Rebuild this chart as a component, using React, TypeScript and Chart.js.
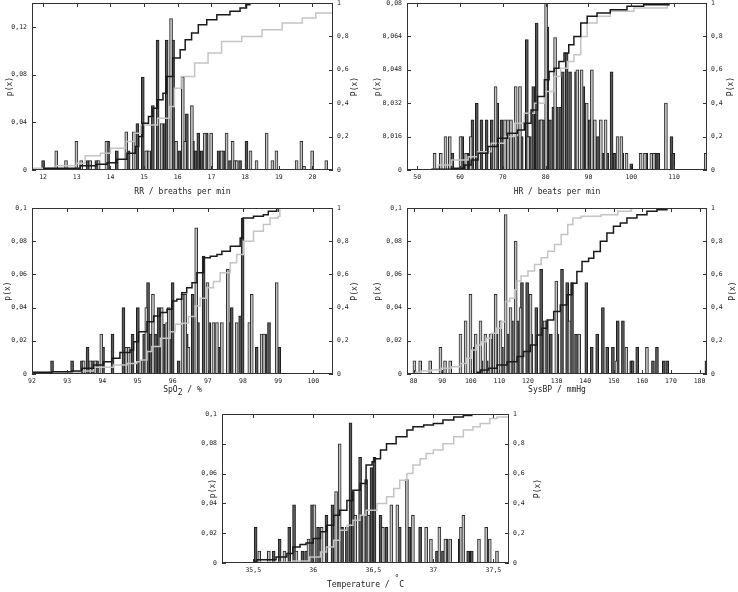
import React, { useEffect, useRef } from 'react';
import { Chart, registerables } from 'chart.js';

Chart.register(...registerables);

type Pt = [number, number];

// ---------- RR ----------
const rrTicksX = [12, 13, 14, 15, 16, 17, 18, 19, 20];
const rrTicksY = [0, 0.04, 0.08, 0.12];
const rrDark: Pt[] = [
  [12.0, 0.008], [13.32, 0.008], [13.58, 0.008], [13.93, 0.024], [14.19, 0.016], [14.54, 0.016],
  [14.8, 0.039], [14.96, 0.078], [15.1, 0.016], [15.26, 0.054], [15.4, 0.109], [15.61, 0.039],
  [15.67, 0.109], [15.86, 0.109], [16.05, 0.016], [16.27, 0.047], [16.45, 0.024], [16.53, 0.016],
  [16.61, 0.031], [16.71, 0.016], [16.86, 0.031], [17.21, 0.016], [17.36, 0.016], [17.55, 0.008],
  [17.85, 0.008], [18.04, 0.024]
];
const rrLight: Pt[] = [
  [12.39, 0.016], [12.68, 0.008], [12.99, 0.024], [13.13, 0.008], [13.4, 0.008], [13.65, 0.008],
  [13.88, 0.024], [14.47, 0.032], [14.69, 0.032], [15.06, 0.016], [15.15, 0.016], [15.52, 0.039],
  [15.8, 0.127], [15.95, 0.024], [16.15, 0.078], [16.22, 0.024], [16.42, 0.054], [16.8, 0.031],
  [16.99, 0.031], [17.3, 0.016], [17.45, 0.031], [17.63, 0.024], [17.7, 0.008], [17.75, 0.008],
  [18.16, 0.016], [18.34, 0.008], [18.64, 0.031], [18.81, 0.008], [18.93, 0.016], [19.53, 0.008],
  [19.67, 0.024], [19.75, 0.003], [19.99, 0.016], [20.41, 0.008]
];
const rrCdfDark: Pt[] = [
  [12.0, 0.01], [13.1, 0.026], [13.58, 0.034], [13.9, 0.044], [14.19, 0.064], [14.49, 0.1],
  [14.74, 0.14], [14.84, 0.2], [14.96, 0.28], [15.13, 0.32], [15.26, 0.37], [15.4, 0.42],
  [15.56, 0.46], [15.67, 0.56], [15.85, 0.67], [16.07, 0.72], [16.22, 0.78], [16.41, 0.82],
  [16.61, 0.87], [16.86, 0.9], [17.16, 0.93], [17.55, 0.95], [17.85, 0.97], [18.04, 0.99],
  [18.14, 1.0], [20.61, 1.0]
];
const rrCdfLight: Pt[] = [
  [11.67, 0.01], [12.39, 0.026], [12.99, 0.04], [13.25, 0.085], [13.7, 0.1], [14.0, 0.13],
  [14.47, 0.17], [14.7, 0.22], [14.9, 0.27], [15.4, 0.31], [15.75, 0.38], [15.9, 0.49],
  [16.1, 0.56], [16.5, 0.64], [16.9, 0.7], [17.3, 0.77], [17.9, 0.8], [18.5, 0.84],
  [19.1, 0.88], [19.7, 0.91], [20.1, 0.94], [20.61, 0.95]
];

// ---------- HR ----------
const hrTicksX = [50, 60, 70, 80, 90, 100, 110];
const hrTicksY = [0, 0.016, 0.032, 0.048, 0.064, 0.08];
const hrDark: Pt[] = [
  [58.2, 0.008], [60.5, 0.016], [61.7, 0.008], [62.9, 0.024], [63.9, 0.032], [65.0, 0.024],
  [66.2, 0.024], [67.4, 0.024], [68.7, 0.032], [69.7, 0.024], [70.9, 0.016], [72.1, 0.016],
  [73.5, 0.016], [74.4, 0.016], [75.6, 0.0625], [76.3, 0.016], [77.1, 0.04], [77.9, 0.0704],
  [78.7, 0.024], [79.4, 0.024], [80.4, 0.0685], [81.0, 0.024], [81.8, 0.03], [82.6, 0.03],
  [83.4, 0.03], [84.0, 0.047], [84.9, 0.056], [85.7, 0.047], [87.1, 0.047], [88.8, 0.04],
  [90.3, 0.024], [91.2, 0.016], [92.2, 0.016], [93.3, 0.008], [94.4, 0.008], [95.4, 0.047],
  [96.1, 0.008], [97.9, 0.008], [100.0, 0.003], [103.5, 0.008], [105.9, 0.008], [106.3, 0.008],
  [109.4, 0.016], [109.8, 0.008]
];
const hrLight: Pt[] = [
  [54.05, 0.008], [55.5, 0.008], [56.6, 0.016], [57.6, 0.016], [60.1, 0.016], [61.4, 0.008],
  [62.5, 0.016], [68.3, 0.04], [70.5, 0.024], [71.2, 0.024], [71.9, 0.024], [73.0, 0.04],
  [74.0, 0.04], [75.9, 0.016], [79.0, 0.024], [80.1, 0.08], [82.2, 0.0634], [87.4, 0.048],
  [88.4, 0.048], [89.6, 0.032], [90.8, 0.048], [91.5, 0.024], [92.9, 0.024], [94.0, 0.024],
  [96.8, 0.016], [97.7, 0.016], [98.9, 0.008], [102.2, 0.008], [103.2, 0.008], [104.7, 0.008],
  [105.3, 0.008], [108.1, 0.032], [117.4, 0.008]
];
const hrCdfDark: Pt[] = [
  [53.3, 0.004], [58.2, 0.01], [61.1, 0.03], [62.6, 0.06], [64.2, 0.1], [66.5, 0.14],
  [68.8, 0.19], [71.1, 0.22], [73.4, 0.24], [75.0, 0.28], [76.6, 0.36], [78.1, 0.44],
  [79.7, 0.54], [80.8, 0.59], [82.0, 0.61], [83.1, 0.65], [84.3, 0.7], [85.4, 0.75],
  [86.6, 0.8], [88.2, 0.88], [89.7, 0.92], [92.0, 0.94], [95.1, 0.96], [99.0, 0.98],
  [102.9, 0.99], [108.8, 1.0], [117.7, 1.0]
];
const hrCdfLight: Pt[] = [
  [53.3, 0.004], [54.9, 0.03], [58.0, 0.06], [61.9, 0.08], [64.2, 0.11], [67.3, 0.16],
  [70.4, 0.2], [72.7, 0.28], [75.0, 0.34], [77.4, 0.4], [79.7, 0.47], [82.0, 0.56],
  [83.5, 0.61], [85.1, 0.65], [86.6, 0.69], [88.2, 0.8], [89.7, 0.88], [92.0, 0.92],
  [95.1, 0.95], [100.6, 0.97], [106.8, 0.97], [108.4, 0.99], [108.8, 1.0]
];

// ---------- SpO2 ----------
const spTicksX = [92, 93, 94, 95, 96, 97, 98, 99, 100];
const tenthTicksY = [0, 0.02, 0.04, 0.06, 0.08, 0.1];
const spDark: Pt[] = [
  [92.57, 0.008], [93.14, 0.008], [93.42, 0.008], [93.58, 0.016], [93.73, 0.008], [93.85, 0.008],
  [94.02, 0.016], [94.29, 0.024], [94.6, 0.04], [94.86, 0.024], [95.01, 0.04], [95.19, 0.024],
  [95.3, 0.055], [95.38, 0.024], [95.5, 0.024], [95.6, 0.04], [95.74, 0.03], [95.95, 0.024],
  [96.0, 0.055], [96.17, 0.008], [96.31, 0.04], [96.4, 0.024], [96.57, 0.048], [96.72, 0.031],
  [96.88, 0.071], [97.04, 0.031], [97.31, 0.016], [97.63, 0.031], [97.68, 0.04], [97.92, 0.035],
  [97.99, 0.094], [98.22, 0.016], [98.39, 0.016], [98.63, 0.024], [98.74, 0.031], [99.03, 0.016]
];
const spLight: Pt[] = [
  [93.47, 0.008], [93.66, 0.008], [93.8, 0.008], [93.97, 0.024], [94.68, 0.016], [94.75, 0.016],
  [95.08, 0.008], [95.25, 0.04], [95.44, 0.048], [95.69, 0.04], [95.84, 0.031], [95.89, 0.04],
  [96.28, 0.048], [96.36, 0.048], [96.45, 0.016], [96.67, 0.088], [96.99, 0.055], [97.16, 0.031],
  [97.26, 0.031], [97.4, 0.031], [97.57, 0.063], [97.82, 0.031], [98.18, 0.031], [98.25, 0.048],
  [98.53, 0.024], [98.6, 0.024], [98.96, 0.055]
];
const spCdfDark: Pt[] = [
  [92.0, 0.01], [92.57, 0.014], [93.14, 0.018], [93.42, 0.034], [93.75, 0.054], [94.03, 0.074],
  [94.27, 0.095], [94.5, 0.13], [94.79, 0.145], [94.89, 0.195], [95.03, 0.255], [95.27, 0.315],
  [95.46, 0.35], [95.65, 0.37], [95.84, 0.39], [95.98, 0.44], [96.12, 0.45], [96.26, 0.49],
  [96.4, 0.52], [96.55, 0.55], [96.69, 0.61], [96.88, 0.7], [97.07, 0.71], [97.26, 0.72],
  [97.4, 0.74], [97.64, 0.77], [97.92, 0.82], [98.0, 0.94], [98.3, 0.95], [98.58, 0.96],
  [98.72, 0.98], [98.96, 1.0], [99.05, 1.0]
];
const spCdfLight: Pt[] = [
  [92.0, 0.01], [93.37, 0.018], [93.75, 0.04], [94.32, 0.054], [94.7, 0.064], [94.98, 0.074],
  [95.08, 0.085], [95.27, 0.135], [95.41, 0.165], [95.65, 0.215], [95.93, 0.255], [96.07, 0.3],
  [96.26, 0.306], [96.45, 0.346], [96.64, 0.41], [96.78, 0.457], [96.97, 0.52], [97.16, 0.557],
  [97.35, 0.61], [97.64, 0.67], [97.82, 0.72], [98.01, 0.8], [98.3, 0.86], [98.58, 0.9],
  [98.77, 0.94], [99.0, 0.95], [99.05, 1.0]
];

// ---------- SysBP ----------
const bpTicksX = [80, 90, 100, 110, 120, 130, 140, 150, 160, 170, 180];
const bpDark: Pt[] = [
  [101.4, 0.016], [103.8, 0.008], [105.6, 0.008], [107.3, 0.024], [109.0, 0.024], [110.9, 0.016],
  [112.7, 0.024], [114.4, 0.032], [116.2, 0.032], [117.9, 0.055], [119.7, 0.055], [121.1, 0.024],
  [122.9, 0.04], [124.6, 0.063], [126.6, 0.032], [128.0, 0.024], [130.3, 0.024], [131.9, 0.063],
  [133.7, 0.055], [135.4, 0.055], [136.8, 0.024], [140.4, 0.055], [142.3, 0.016], [144.2, 0.024],
  [146.2, 0.04], [147.7, 0.016], [149.7, 0.016], [151.4, 0.032], [153.2, 0.032], [156.1, 0.008],
  [156.6, 0.008], [158.2, 0.016], [163.7, 0.008], [165.1, 0.016], [167.5, 0.008], [168.7, 0.008],
  [182.4, 0.008]
];
const bpLight: Pt[] = [
  [80.3, 0.008], [82.3, 0.008], [85.8, 0.008], [89.4, 0.016], [91.0, 0.008], [92.8, 0.008],
  [96.4, 0.024], [98.2, 0.032], [99.9, 0.048], [101.7, 0.024], [103.4, 0.032], [105.1, 0.024],
  [106.9, 0.024], [108.7, 0.048], [110.4, 0.032], [112.2, 0.096], [113.9, 0.04], [115.7, 0.08],
  [117.4, 0.04], [120.9, 0.048], [125.8, 0.032], [129.9, 0.056], [134.5, 0.032], [137.9, 0.024],
  [150.9, 0.008], [154.4, 0.016], [161.6, 0.016]
];
const bpCdfLight: Pt[] = [
  [80.3, 0.01], [82.7, 0.018], [86.2, 0.024], [89.6, 0.034], [93.1, 0.044], [96.4, 0.064],
  [98.4, 0.095], [100.2, 0.145], [101.9, 0.175], [103.7, 0.195], [105.4, 0.215], [107.2, 0.245],
  [108.9, 0.275], [110.7, 0.315], [112.1, 0.437], [113.6, 0.457], [115.3, 0.507], [116.2, 0.56],
  [117.6, 0.59], [120.0, 0.62], [122.3, 0.66], [124.6, 0.7], [126.9, 0.74], [129.3, 0.78],
  [131.6, 0.84], [133.9, 0.9], [135.7, 0.94], [138.6, 0.95], [145.6, 0.96], [151.4, 0.98],
  [156.1, 1.0], [161.9, 1.0]
];
const bpCdfDark: Pt[] = [
  [102.0, 0.01], [103.4, 0.024], [106.3, 0.034], [109.2, 0.054], [112.7, 0.074], [116.2, 0.105],
  [118.5, 0.135], [120.8, 0.175], [123.2, 0.235], [124.9, 0.275], [126.7, 0.326], [129.0, 0.376],
  [131.3, 0.416], [133.6, 0.477], [135.4, 0.547], [137.1, 0.618], [138.9, 0.678], [141.2, 0.698],
  [143.0, 0.738], [145.3, 0.8], [147.6, 0.85], [149.9, 0.89], [152.3, 0.91], [154.6, 0.94],
  [158.1, 0.96], [161.6, 0.98], [165.1, 0.99], [168.6, 1.0], [182.6, 1.0]
];

// ---------- Temperature ----------
const tTicksX = [35.5, 36, 36.5, 37, 37.5];
const tDark: Pt[] = [
  [35.52, 0.024], [35.67, 0.008], [35.72, 0.016], [35.8, 0.024], [35.84, 0.039], [35.91, 0.008],
  [35.94, 0.008], [35.99, 0.039], [36.04, 0.024], [36.11, 0.032], [36.16, 0.039], [36.24, 0.024],
  [36.28, 0.024], [36.31, 0.094], [36.33, 0.048], [36.39, 0.071], [36.44, 0.056], [36.485, 0.064],
  [36.51, 0.071], [36.56, 0.032], [36.61, 0.024], [36.72, 0.024], [36.8, 0.024], [36.89, 0.024],
  [37.03, 0.008], [37.08, 0.008], [37.11, 0.016], [37.22, 0.016], [37.29, 0.008], [37.32, 0.008]
];
const tLight: Pt[] = [
  [35.55, 0.008], [35.63, 0.008], [35.76, 0.008], [35.86, 0.008], [35.96, 0.016], [36.01, 0.039],
  [36.07, 0.024], [36.19, 0.048], [36.22, 0.08], [36.35, 0.032], [36.42, 0.032], [36.46, 0.032],
  [36.58, 0.024], [36.65, 0.039], [36.7, 0.039], [36.78, 0.056], [36.83, 0.032], [36.94, 0.024],
  [36.98, 0.016], [37.05, 0.024], [37.1, 0.016], [37.14, 0.016], [37.23, 0.024], [37.25, 0.032],
  [37.38, 0.016], [37.44, 0.024], [37.47, 0.016], [37.53, 0.008]
];
const tCdfDark: Pt[] = [
  [35.5, 0.01], [35.53, 0.022], [35.69, 0.04], [35.78, 0.063], [35.83, 0.108], [35.89, 0.125],
  [35.94, 0.135], [36.0, 0.164], [36.06, 0.209], [36.11, 0.253], [36.17, 0.32], [36.22, 0.354],
  [36.28, 0.42], [36.33, 0.489], [36.39, 0.534], [36.44, 0.657], [36.49, 0.68], [36.51, 0.7],
  [36.56, 0.758], [36.61, 0.8], [36.69, 0.848], [36.78, 0.892], [36.83, 0.915], [36.92, 0.926],
  [37.0, 0.937], [37.08, 0.96], [37.17, 0.98], [37.25, 0.99], [37.32, 1.0]
];
const tCdfLight: Pt[] = [
  [35.5, 0.005], [35.83, 0.013], [35.97, 0.04], [36.06, 0.074], [36.11, 0.108], [36.17, 0.152],
  [36.22, 0.22], [36.28, 0.253], [36.33, 0.287], [36.39, 0.32], [36.44, 0.354], [36.53, 0.4],
  [36.61, 0.444], [36.67, 0.5], [36.72, 0.556], [36.78, 0.6], [36.83, 0.657], [36.89, 0.7],
  [36.94, 0.735], [37.0, 0.758], [37.08, 0.8], [37.17, 0.848], [37.25, 0.892], [37.33, 0.915],
  [37.39, 0.937], [37.47, 0.97], [37.53, 0.98], [37.63, 0.99]
];

const cumTicksY = [0, 0.2, 0.4, 0.6, 0.8, 1];

// ---------- layout / style ----------
const FONT = '"DejaVu Sans Mono", monospace';
const TEXT = '#222';

type TitlePart = { t: string; dy?: number };

interface PanelSpec {
  key: string;
  left: number; top: number; w: number; h: number;
  area: { l: number; r: number; t: number; b: number };
  xMin: number; xMax: number; yMax: number;
  xTicks: number[]; yTicks: number[];
  dark: Pt[]; light: Pt[]; cdfDark: Pt[]; cdfLight: Pt[];
  title: TitlePart[];
  titleDy: number;
  leftTitleX: number; rightTitleX: number;
}

const panels: PanelSpec[] = [
  {
    key: 'rr', left: 0, top: 0, w: 369, h: 200, area: { l: 32, r: 333, t: 3, b: 170 },
    xMin: 11.67, xMax: 20.61, yMax: 0.14, xTicks: rrTicksX, yTicks: rrTicksY,
    dark: rrDark, light: rrLight, cdfDark: rrCdfDark, cdfLight: rrCdfLight,
    title: [{ t: 'RR / breaths per min' }], titleDy: 22, leftTitleX: 10, rightTitleX: 355,
  },
  {
    key: 'hr', left: 369, top: 0, w: 369, h: 200, area: { l: 38, r: 338, t: 3, b: 170 },
    xMin: 47.6, xMax: 117.7, yMax: 0.08, xTicks: hrTicksX, yTicks: hrTicksY,
    dark: hrDark, light: hrLight, cdfDark: hrCdfDark, cdfLight: hrCdfLight,
    title: [{ t: 'HR / beats per min' }], titleDy: 22, leftTitleX: 9, rightTitleX: 362,
  },
  {
    key: 'sp', left: 0, top: 200, w: 369, h: 200, area: { l: 32, r: 333, t: 8, b: 174 },
    xMin: 92.0, xMax: 100.56, yMax: 0.1, xTicks: spTicksX, yTicks: tenthTicksY,
    dark: spDark, light: spLight, cdfDark: spCdfDark, cdfLight: spCdfLight,
    title: [{ t: 'SpO' }, { t: '2', dy: 3 }, { t: ' / %' }], titleDy: 16, leftTitleX: 8, rightTitleX: 355,
  },
  {
    key: 'bp', left: 369, top: 200, w: 369, h: 200, area: { l: 38, r: 338, t: 8, b: 174 },
    xMin: 77.7, xMax: 182.6, yMax: 0.1, xTicks: bpTicksX, yTicks: tenthTicksY,
    dark: bpDark, light: bpLight, cdfDark: bpCdfDark, cdfLight: bpCdfLight,
    title: [{ t: 'SysBP / mmHg' }], titleDy: 16, leftTitleX: 9, rightTitleX: 364,
  },
  {
    key: 't', left: 180, top: 400, w: 380, h: 192, area: { l: 42, r: 329, t: 14, b: 163 },
    xMin: 35.24, xMax: 37.63, yMax: 0.1, xTicks: tTicksX, yTicks: tenthTicksY,
    dark: tDark, light: tLight, cdfDark: tCdfDark, cdfLight: tCdfLight,
    title: [{ t: 'Temperature / ' }, { t: '°', dy: -6 }, { t: 'C' }], titleDy: 22, leftTitleX: 33, rightTitleX: 358,
  },
];

function fmt(v: number): string {
  return String(Number(v.toFixed(4))).replace('.', ',');
}

const framePlugin = {
  id: 'gnuframe',
  afterDraw(chart: any) {
    const { ctx, chartArea: a, scales } = chart;
    const spec: PanelSpec = chart.options.plugins.gnuframe.spec;
    ctx.save();
    ctx.strokeStyle = '#333';
    ctx.lineWidth = 1;
    const L = Math.round(a.left), R = Math.round(a.right), T = Math.round(a.top), B = Math.round(a.bottom);
    ctx.strokeRect(L + 0.5, T + 0.5, R - L - 1, B - T - 1);
    const tl = 4;
    ctx.beginPath();
    for (const t of scales.x.ticks) {
      const px = Math.round(scales.x.getPixelForValue(t.value)) + 0.5;
      ctx.moveTo(px, B); ctx.lineTo(px, B - tl);
      ctx.moveTo(px, T); ctx.lineTo(px, T + tl);
    }
    for (const t of scales.y.ticks) {
      const py = Math.round(scales.y.getPixelForValue(t.value)) + 0.5;
      ctx.moveTo(L, py); ctx.lineTo(L + tl, py);
    }
    for (const t of scales.y1.ticks) {
      const py = Math.round(scales.y1.getPixelForValue(t.value)) + 0.5;
      ctx.moveTo(R, py); ctx.lineTo(R - tl, py);
    }
    ctx.stroke();

    ctx.fillStyle = TEXT;
    ctx.textBaseline = 'middle';
    ctx.textAlign = 'center';
    ctx.font = `8px ${FONT}`;
    const cy = (a.top + a.bottom) / 2;
    ctx.save(); ctx.translate(spec.leftTitleX, cy); ctx.rotate(-Math.PI / 2); ctx.fillText('p(x)', 0, 0); ctx.restore();
    ctx.save(); ctx.translate(spec.rightTitleX, cy); ctx.rotate(-Math.PI / 2); ctx.fillText('P(x)', 0, 0); ctx.restore();

    // x-axis title (with sub/superscripts)
    ctx.textAlign = 'left';
    const widths = spec.title.map((p) => ctx.measureText(p.t).width);
    const total = widths.reduce((s, w) => s + w, 0);
    let x = (a.left + a.right) / 2 - total / 2;
    const y = a.bottom + spec.titleDy;
    spec.title.forEach((p, i) => {
      ctx.fillText(p.t, x, y + (p.dy || 0));
      x += widths[i];
    });
    ctx.restore();
  },
};

function makeConfig(spec: PanelSpec): any {
  const tickFont = { family: FONT, size: 6.5 };
  const yW = spec.area.l;
  const y1W = spec.w - spec.area.r;
  const xH = spec.h - spec.area.b;
  const toXY = (arr: Pt[]) => arr.map(([x, y]) => ({ x, y }));
  return {
    type: 'bar',
    data: {
      datasets: [
        {
          type: 'line', data: toXY(spec.cdfDark), yAxisID: 'y1', borderColor: '#1a1a1a',
          borderWidth: 1.5, pointRadius: 0, stepped: 'before', fill: false, order: 0,
        },
        {
          type: 'line', data: toXY(spec.cdfLight), yAxisID: 'y1', borderColor: '#c4c4c4',
          borderWidth: 1.5, pointRadius: 0, stepped: 'before', fill: false, order: 0,
        },
        {
          type: 'bar', data: toXY(spec.light), yAxisID: 'y', backgroundColor: '#c2c2c2',
          borderColor: '#2a2a2a', borderWidth: 1, barThickness: 3, grouped: false, order: 1,
          borderSkipped: false,
        },
        {
          type: 'bar', data: toXY(spec.dark), yAxisID: 'y', backgroundColor: '#585858',
          borderColor: '#1a1a1a', borderWidth: 1, barThickness: 3, grouped: false, order: 2,
          borderSkipped: false,
        },
      ],
    },
    options: {
      responsive: false,
      animation: false,
      devicePixelRatio: 1,
      events: [],
      layout: { padding: { top: spec.area.t, left: 0, right: 0, bottom: 0 } },
      plugins: { legend: { display: false }, tooltip: { enabled: false }, gnuframe: { spec } },
      scales: {
        x: {
          type: 'linear', min: spec.xMin, max: spec.xMax, offset: false,
          grid: { display: false, drawTicks: false }, border: { display: false },
          afterBuildTicks: (s: any) => { s.ticks = spec.xTicks.map((v) => ({ value: v })); },
          afterFit: (s: any) => { s.height = xH; s.paddingLeft = 0; s.paddingRight = 0; },
          ticks: { font: tickFont, color: TEXT, padding: 3, maxRotation: 0, autoSkip: false, callback: (v: number) => fmt(v) },
        },
        y: {
          type: 'linear', position: 'left', min: 0, max: spec.yMax,
          grid: { display: false, drawTicks: false }, border: { display: false },
          afterBuildTicks: (s: any) => { s.ticks = spec.yTicks.map((v) => ({ value: v })); },
          afterFit: (s: any) => { s.width = yW; s.paddingTop = 0; s.paddingBottom = 0; },
          ticks: { font: tickFont, color: TEXT, padding: 5, callback: (v: number) => fmt(v) },
        },
        y1: {
          type: 'linear', position: 'right', min: 0, max: 1,
          grid: { display: false, drawTicks: false }, border: { display: false },
          afterBuildTicks: (s: any) => { s.ticks = cumTicksY.map((v) => ({ value: v })); },
          afterFit: (s: any) => { s.width = y1W; s.paddingTop = 0; s.paddingBottom = 0; },
          ticks: { font: tickFont, color: TEXT, padding: 4, callback: (v: number) => fmt(v) },
        },
      },
    },
    plugins: [framePlugin],
  };
}

function Panel({ spec }: { spec: PanelSpec }) {
  const ref = useRef<HTMLCanvasElement>(null);
  useEffect(() => {
    if (!ref.current) return;
    const chart = new Chart(ref.current, makeConfig(spec));
    return () => chart.destroy();
  }, [spec]);
  return (
    <canvas
      ref={ref}
      width={spec.w}
      height={spec.h}
      style={{ position: 'absolute', left: spec.left, top: spec.top, width: spec.w, height: spec.h }}
    />
  );
}

export default function App() {
  return (
    <div style={{ position: 'absolute', left: 0, top: 0, width: 738, height: 592, background: '#fff' }}>
      {panels.map((p) => (
        <Panel key={p.key} spec={p} />
      ))}
    </div>
  );
}
